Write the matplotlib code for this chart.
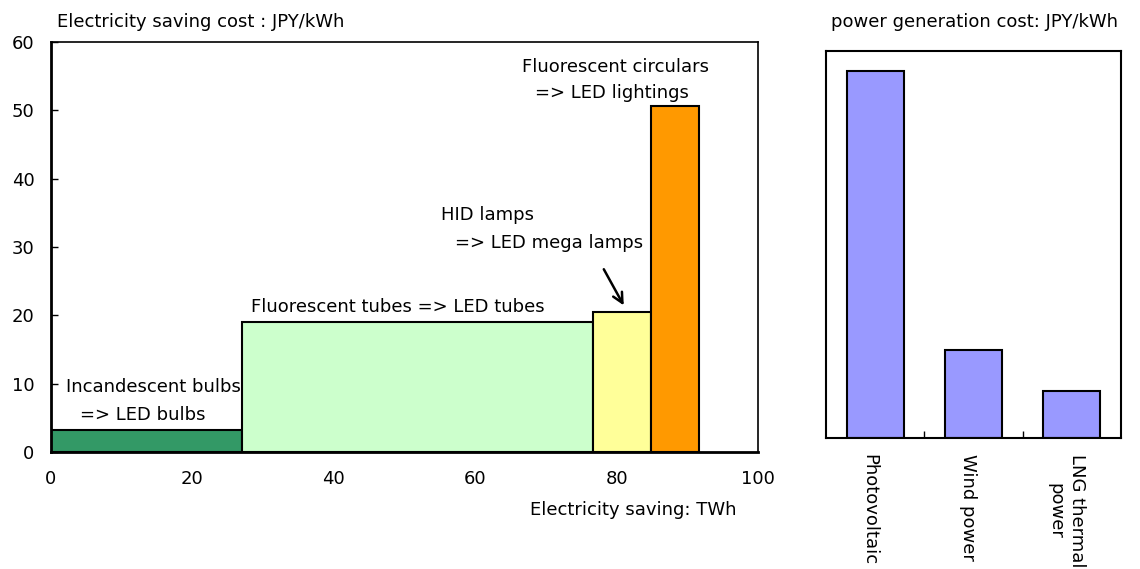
import matplotlib
matplotlib.use("Agg")
import matplotlib.pyplot as plt
import numpy as np

plt.rcParams['font.family'] = ['DejaVu Sans']

# Left chart: lighting replacement (cumulative saving width, cost height)
measures = ["Incandescent bulbs => LED bulbs", "Fluorescent tubes => LED tubes",
            "HID lamps => LED mega lamps", "Fluorescent circulars => LED lightings"]
saving_twh = [27.0, 49.7, 8.1, 6.9]
saving_cost = [3.2, 19.0, 20.5, 50.6]
measure_colors = ["#339966", "#CCFFCC", "#FFFF99", "#FF9900"]
x_ticks = [0, 20, 40, 60, 80, 100]
y_ticks = [0, 10, 20, 30, 40, 50, 60]

# Right chart: power generation cost
sources = ["Photovoltaic", "Wind power", "LNG thermal\npower"]
gen_cost = [49.0, 11.7, 6.3]

fig = plt.figure(figsize=(11.4, 5.69), dpi=100)

ax = fig.add_axes([51/1140, 1-452/569, (758-51)/1140, (452-42)/569])
lefts = np.concatenate([[0], np.cumsum(saving_twh)[:-1]])
ax.bar(lefts, saving_cost, width=saving_twh, align='edge', color=measure_colors,
       edgecolor='black', linewidth=1.5, zorder=2)
ax.set_xlim(0, 100)
ax.set_ylim(0, 60)
ax.set_xticks(x_ticks)
ax.set_yticks(y_ticks)
ax.tick_params(axis='x', length=0, pad=13, labelsize=13)
ax.tick_params(axis='y', direction='in', length=5, width=1, pad=12, labelsize=13)
for s in ax.spines.values():
    s.set_linewidth(1.2)
ax.spines['left'].set_linewidth(2)
ax.spines['bottom'].set_linewidth(2)

fs = 13
ax.text(2.1, 9.5, "Incandescent bulbs", fontsize=fs, va='center', ha='left')
ax.text(4.1, 5.4, "=> LED bulbs", fontsize=fs, va='center', ha='left')
ax.text(28.3, 21.2, "Fluorescent tubes => LED tubes", fontsize=fs, va='center', ha='left')
ax.text(55.2, 34.7, "HID lamps", fontsize=fs, va='center', ha='left')
ax.text(57.1, 30.6, "=> LED mega lamps", fontsize=fs, va='center', ha='left')
ax.text(66.6, 56.3, "Fluorescent circulars", fontsize=fs, va='center', ha='left')
ax.text(68.5, 52.5, "=> LED lightings", fontsize=fs, va='center', ha='left')
ax.annotate("", xy=(81.2, 21.1), xytext=(78.0, 27.1),
            arrowprops=dict(arrowstyle='->', lw=1.8, color='black', mutation_scale=18))

fig.text(57/1140, 1-22/569, "Electricity saving cost : JPY/kWh", fontsize=fs, va='center', ha='left')
fig.text(737/1140, 1-510/569, "Electricity saving: TWh", fontsize=fs, va='center', ha='right')

ax2 = fig.add_axes([826/1140, 1-437.7/569, (1121-826)/1140, (437.7-51)/569])
pos = np.arange(len(sources))
ax2.bar(pos, gen_cost, width=0.58, color="#9999FF", edgecolor='black', linewidth=1.5, zorder=2)
ax2.set_xlim(-0.5, len(sources)-0.5)
ax2.set_ylim(0, 51.7)
ax2.set_yticks([])
ax2.set_xticks(pos[:-1] + 0.5)
ax2.set_xticklabels([])
ax2.tick_params(axis='x', which='major', direction='in', length=5, width=1)
ax2.set_xticks(pos - 0.06, minor=True)
ax2.set_xticklabels(sources, minor=True, rotation=-90, va='top', ha='center', fontsize=13,
                    linespacing=1.25)
ax2.tick_params(axis='x', which='minor', length=0, pad=12)
for s in ax2.spines.values():
    s.set_linewidth(1.5)

fig.text(1118/1140, 1-22/569, "power generation cost: JPY/kWh", fontsize=fs, va='center', ha='right')

fig.savefig("out.png", dpi=100)
